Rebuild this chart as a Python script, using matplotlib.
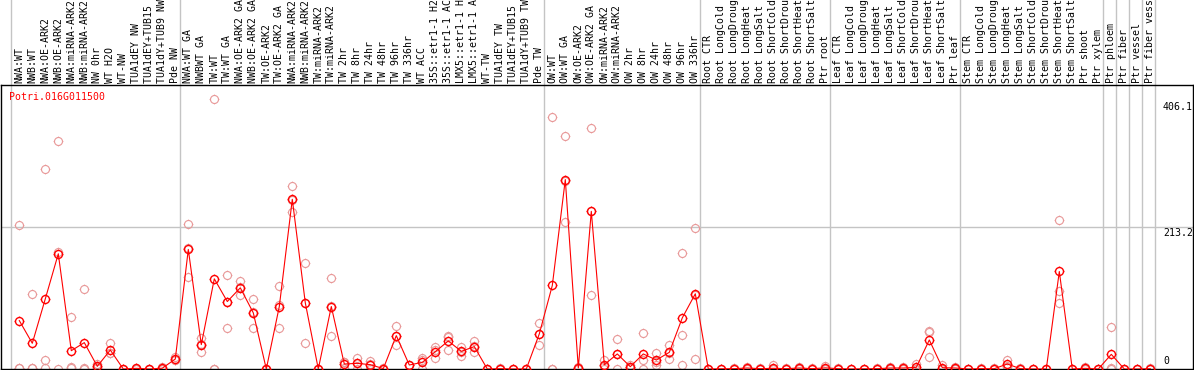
import numpy as np
import matplotlib
matplotlib.use("Agg")
import matplotlib.pyplot as plt
import matplotlib.path as mpath

# sample labels, in plot order
labels = ["NWA:WT", "NWB:WT", "NWA:OE-ARK2", "NWB:OE-ARK2", "NWA:miRNA-ARK2", "NWB:miRNA-ARK2",
          "NW 0hr", "WT H2O", "WT-NW", "TUA1dEY NW", "TUA1dEY+TUB15 NW", "TUA1dY+TUB9 NW", "Pde NW",
          "NWA:WT GA", "NWBWT GA", "TW:WT", "TW:WT GA", "NWA:OE-ARK2 GA", "NWB:OE-ARK2 GA",
          "TW:OE-ARK2", "TW:OE-ARK2 GA", "NWA:miRNA-ARK2 GA", "NWB:miRNA-ARK2 GA", "TW:miRNA-ARK2",
          "TW:miRNA-ARK2 GA", "TW 2hr", "TW 8hr", "TW 24hr", "TW 48hr", "TW 96hr", "TW 336hr",
          "WT ACC", "35S::etr1-1 H2O", "35S::etr1-1 ACC", "LMX5::etr1-1 H2O", "LMX5::etr1-1 ACC",
          "WT-TW", "TUA1dEY TW", "TUA1dEY+TUB15 TW", "TUA1dY+TUB9 TW", "Pde TW",
          "OW:WT", "OW:WT GA", "OW:OE-ARK2", "OW:OE-ARK2 GA", "OW:miRNA-ARK2", "OW:miRNA-ARK2 GA",
          "OW 2hr", "OW 8hr", "OW 24hr", "OW 48hr", "OW 96hr", "OW 336hr",
          "Root CTR", "Root LongCold", "Root LongDrought", "Root LongHeat", "Root LongSalt",
          "Root ShortCold", "Root ShortDrought", "Root ShortHeat", "Root ShortSalt", "Ptr root",
          "Leaf CTR", "Leaf LongCold", "Leaf LongDrought", "Leaf LongHeat", "Leaf LongSalt",
          "Leaf ShortCold", "Leaf ShortDrought", "Leaf ShortHeat", "Leaf ShortSalt", "Ptr leaf",
          "Stem CTR", "Stem LongCold", "Stem LongDrought", "Stem LongHeat", "Stem LongSalt",
          "Stem ShortCold", "Stem ShortDrought", "Stem ShortHeat", "Stem ShortSalt", "Ptr shoot",
          "Ptr xylem", "Ptr phloem", "Ptr fiber", "Ptr vessel", "Ptr fiber vessel"]

# number of samples in each experiment block
group_sizes = [13, 28, 12, 10, 10, 11, 1, 1, 1, 1]

# mean expression per sample
means = [72.7, 38.6, 105.3, 173.0, 27.5, 39.6, 4.0, 28.5, 0.0, 1.0, 0.0, 1.2, 15.0,
         179.5, 36.6, 135.4, 101.3, 121.9, 84.3, 0.0, 93.8, 254.8, 99.3, 0.0, 93.8, 7.5, 8.5,
         6.5, 0.6, 50.1, 6.0, 10.0, 26.0, 42.1, 26.5, 33.6, 0.0, 0.5, 0.0, 0.0, 52.7,
         125.4, 284.4, 1.5, 236.7, 6.5, 22.6, 3.5, 22.6, 13.5, 25.0, 76.8, 112.9,
         0.0, 0.3, 0.5, 1.5, 0.5, 1.0, 0.5, 1.5, 0.5, 1.7,
         0.5, 0.0, 0.3, 0.5, 1.5, 1.5, 2.5, 43.6, 2.0, 1.5,
         0.0, 0.5, 0.5, 7.5, 0.5, 0.0, 0.0, 146.4, 0.0, 1.0, 0.0,
         22.0, 0.0, 0.0, 0.5]

# replicate values per sample
reps = [[215.7, 1.5, 0.8], [112.9, 1.8, 1.0], [301.0, 14.0, 0.9], [342.6, 176.0, 0.4],
        [78.7, 2.5, 1.2], [120.8, 0.8, 0.4], [7.0, 3.0, 2.0], [38.6, 23.5, 23.4],
        [0.0, 0.0, 0.0], [2.0, 0.6, 0.4], [0.0, 0.0, 0.0], [3.0, 0.4, 0.2], [18.0, 14.0, 13.0],
        [218.2, 137.9, 182.4], [46.6, 26.0, 37.2], [406.1, 0.1, 0.0], [141.5, 61.7, 100.7],
        [131.4, 111.4, 122.9], [105.3, 61.7, 85.9], [0.0, 0.0, 0.0], [123.9, 61.7, 95.8],
        [274.4, 235.7, 254.3], [159.5, 39.1, 99.3], [0.0, 0.0, 0.0], [137.0, 50.1, 94.3],
        [10.5, 1.0, 11.0], [16.0, 0.5, 9.0], [12.0, 0.5, 7.0], [1.0, 0.5, 0.3],
        [64.1, 36.1, 50.1], [6.5, 6.0, 5.5], [16.0, 0.6, 13.4], [33.6, 16.0, 28.4],
        [50.1, 28.6, 47.6], [33.6, 20.0, 25.9], [41.5, 25.0, 34.3], [0.0, 0.0, 0.0],
        [1.0, 0.3, 0.2], [0.0, 0.0, 0.0], [0.0, 0.0, 0.0], [69.2, 36.1, 52.8],
        [377.7, 0.5, 0.0], [349.6, 220.6, 283.0], [2.5, 1.5, 0.5], [361.2, 111.8, 237.1],
        [14.0, 0.6, 4.9], [45.2, 0.3, 22.3], [6.0, 3.5, 1.0], [54.2, 14.0, 0.2],
        [24.0, 6.0, 10.5], [36.1, 15.0, 23.9], [174.6, 51.2, 6.0], [212.2, 15.0, 111.5],
        [0.0, 0.0, 0.0], [0.5, 0.3, 0.1], [1.0, 0.3, 0.2], [3.0, 1.0, 0.5], [1.0, 0.3, 0.2],
        [6.0, 0.0, 0.0], [1.0, 0.3, 0.2], [3.0, 1.0, 0.5], [1.0, 0.3, 0.2], [5.0, 0.0, 0.0],
        [1.0, 0.3, 0.2], [0.0, 0.0, 0.0], [0.5, 0.3, 0.1], [1.0, 0.3, 0.2], [3.0, 1.0, 0.5],
        [3.0, 1.0, 0.5], [7.5, 0.0, 0.0], [57.6, 55.0, 18.5], [6.0, 0.0, 0.0], [3.0, 1.0, 0.5],
        [0.0, 0.0, 0.0], [1.0, 0.3, 0.2], [1.0, 0.3, 0.2], [14.0, 5.0, 3.5], [1.0, 0.3, 0.2],
        [0.0, 0.0, 0.0], [0.0, 0.0, 0.0], [223.2, 117.8, 99.3], [0.0, 0.0, 0.0], [3.5, 0.0, 0.0],
        [0.0, 0.0, 0.0], [63.7, 0.6, 1.7], [0.0, 0.0, 0.0], [0.0, 0.0, 0.0], [1.0, 0.3, 0.2]]

gene = "Potri.016G011500"
y_max_label = 406.1
y_mid_label = 213.2

W, H = 1194, 370
mono = "DejaVu Sans Mono"
fs = 7.1
max_chars = 14  # the header strip only has room for this many characters

# circle marker with four little ticks
circ = mpath.Path.unit_circle()
t = 1.22
tick_verts = [(0, 1), (0, t), (0, -1), (0, -t), (1, 0), (t, 0), (-1, 0), (-t, 0)]
tick_codes = [mpath.Path.MOVETO, mpath.Path.LINETO] * 4
ticks = mpath.Path(tick_verts, tick_codes)
mark = mpath.Path.make_compound_path(circ, ticks)
msize = 7.0

fig = plt.figure(figsize=(W / 100, H / 100), dpi=100)
ax = fig.add_axes([1 / W, 1.0 / H, 1192 / W, 284 / H])
x = np.arange(len(labels))
ax.set_xlim((1 - 19.3) / 13, (1193 - 19.3) / 13)
ax.set_ylim(0, y_mid_label * 2)
ax.set_xticks([])
ax.set_yticks([])
for s in ax.spines.values():
    s.set_color("black")
    s.set_linewidth(1.0)

# block separators, full height incl. label area
edges = np.concatenate([[0], np.cumsum(group_sizes)])
for e in edges:
    ax.axvline(e - 8 / 13, ymin=0, ymax=370 / 284, color="#c4c4c4", lw=1.0, clip_on=False, zorder=1)
ax.axhline(y_mid_label, color="#c4c4c4", lw=1.0, zorder=1)

# replicates
for i, r in enumerate(reps):
    ax.plot([i] * len(r), r, linestyle="none", marker=mark, markersize=msize,
            markerfacecolor="none", markeredgecolor="#e89898", markeredgewidth=0.8, zorder=2)

# mean line
ax.plot(x, means, color="red", lw=0.8, marker=mark, markersize=msize,
        markerfacecolor="none", markeredgecolor="red", markeredgewidth=1.0, zorder=3)

# rotated sample labels above the plot
for i, lab in enumerate(labels):
    ax.text(i, 1.006, lab[:max_chars], transform=ax.get_xaxis_transform(), rotation=90,
            ha="center", va="bottom", family=mono, fontsize=fs, color="black", clip_on=False)

fig.text(9.5 / W, (H - 97) / H, gene, color="red", family=mono, fontsize=fs, ha="left", va="center")
fig.text(1163 / W, (H - 107.5) / H, f"{y_max_label}", family=mono, fontsize=fs, ha="left", va="center")
fig.text(1163 / W, (H - 232.5) / H, f"{y_mid_label}", family=mono, fontsize=fs, ha="left", va="center")
fig.text(1163 / W, (H - 361.5) / H, "0", family=mono, fontsize=fs, ha="left", va="center")

fig.savefig("out.png", dpi=100)
